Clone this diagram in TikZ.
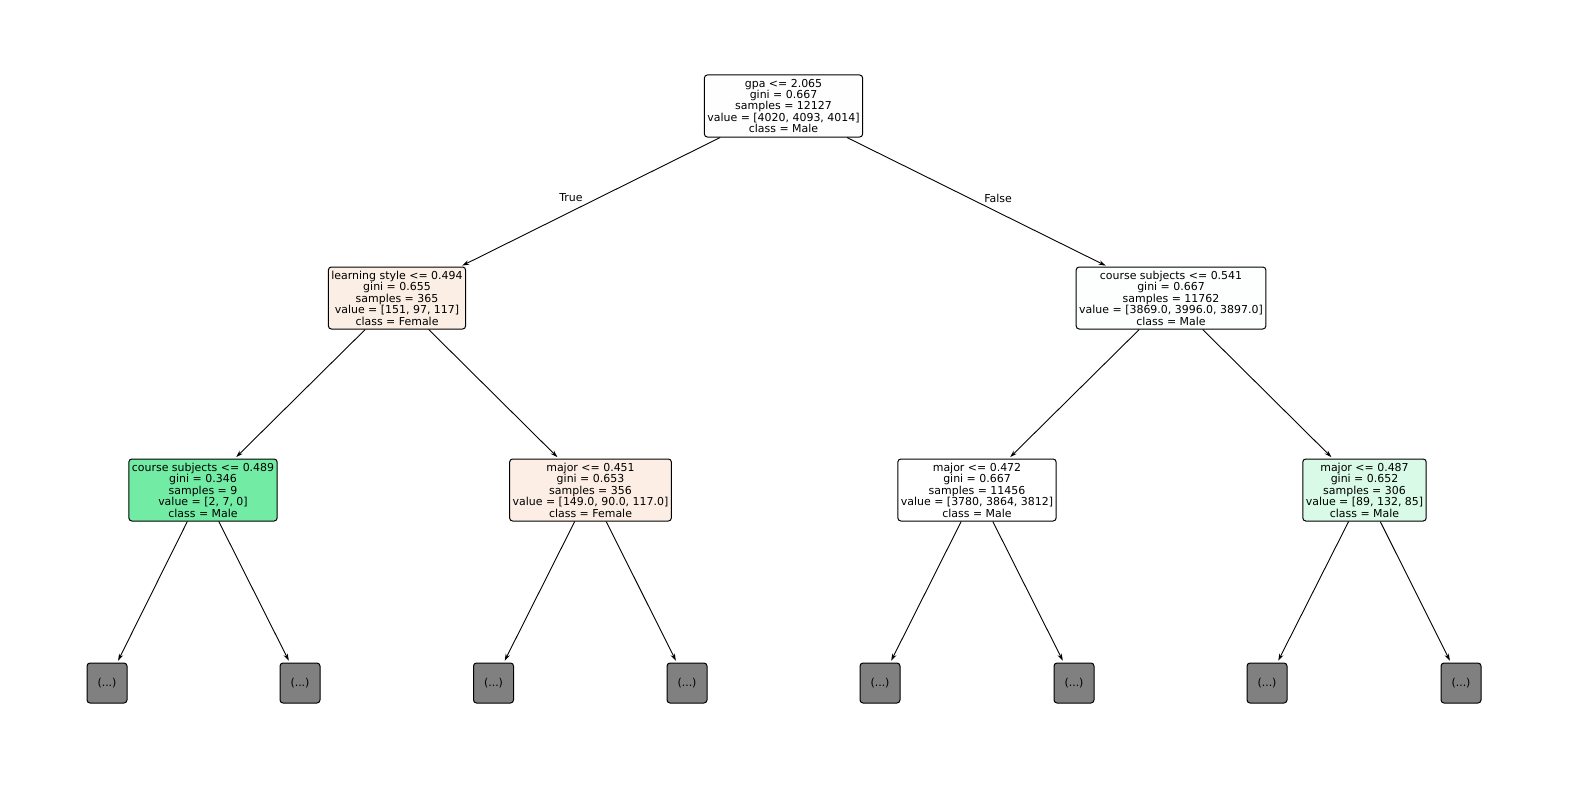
\documentclass[tikz,border=0pt]{standalone}
\usepackage{fontspec}
\setmainfont{DejaVu Sans}
\usetikzlibrary{arrows.meta}
\definecolor{rootc}{RGB}{253,254,253}
\definecolor{femA}{RGB}{251,238,228}
\definecolor{femB}{RGB}{252,238,228}
\definecolor{maleA}{RGB}{252,255,253}
\definecolor{maleB}{RGB}{114,236,165}
\definecolor{maleC}{RGB}{254,255,254}
\definecolor{maleD}{RGB}{216,250,230}
\definecolor{leafc}{RGB}{128,128,128}
\tikzset{
  tree/.style={draw=black, line width=1bp, rounded corners=3bp, align=center,
    font=\fontsize{11}{11.5}\selectfont, inner xsep=3bp, inner ysep=2bp,
    minimum height=62bp},
  leafbox/.style={draw=black, line width=1bp, rounded corners=3bp, fill=leafc,
    font=\fontsize{11}{11.5}\selectfont, minimum width=40bp, minimum height=40bp, inner sep=0pt},
  edge/.style={draw=black, line width=0.9bp, -{Stealth[length=7bp,width=4.5bp]}, shorten >=2bp},
  elabel/.style={font=\fontsize{11}{11.5}\selectfont}
}
\begin{document}
\begin{tikzpicture}[x=1bp,y=-1bp]
\useasboundingbox (0,0) rectangle (1570,790);
% internal nodes
\node[tree, fill=rootc] (n0) at (783.5,106) {gpa <= 2.065\\gini = 0.667\\samples = 12127\\value = [4020, 4093, 4014]\\class = Male};
\node[tree, fill=femA] (n1) at (397,298) {learning style <= 0.494\\gini = 0.655\\samples = 365\\value = [151, 97, 117]\\class = Female};
\node[tree, fill=maleA] (n2) at (1171,298) {course subjects <= 0.541\\gini = 0.667\\samples = 11762\\value = [3869.0, 3996.0, 3897.0]\\class = Male};
\node[tree, fill=maleB] (n3) at (203,490) {course subjects <= 0.489\\gini = 0.346\\samples = 9\\value = [2, 7, 0]\\class = Male};
\node[tree, fill=femB] (n4) at (590.5,490) {major <= 0.451\\gini = 0.653\\samples = 356\\value = [149.0, 90.0, 117.0]\\class = Female};
\node[tree, fill=maleC] (n5) at (977,490) {major <= 0.472\\gini = 0.667\\samples = 11456\\value = [3780, 3864, 3812]\\class = Male};
\node[tree, fill=maleD] (n6) at (1364.5,490) {major <= 0.487\\gini = 0.652\\samples = 306\\value = [89, 132, 85]\\class = Male};
% truncated subtrees
\node[leafbox] (l1) at (107,683) {(...)};
\node[leafbox] (l2) at (300,683) {(...)};
\node[leafbox] (l3) at (493.5,683) {(...)};
\node[leafbox] (l4) at (687,683) {(...)};
\node[leafbox] (l5) at (880,683) {(...)};
\node[leafbox] (l6) at (1074,683) {(...)};
\node[leafbox] (l7) at (1267,683) {(...)};
\node[leafbox] (l8) at (1461,683) {(...)};
% connectors
\draw[edge] (n0) -- (n1);
\draw[edge] (n0) -- (n2);
\draw[edge] (n1) -- (n3);
\draw[edge] (n1) -- (n4);
\draw[edge] (n2) -- (n5);
\draw[edge] (n2) -- (n6);
\draw[edge] (n3) -- (l1);
\draw[edge] (n3) -- (l2);
\draw[edge] (n4) -- (l3);
\draw[edge] (n4) -- (l4);
\draw[edge] (n5) -- (l5);
\draw[edge] (n5) -- (l6);
\draw[edge] (n6) -- (l7);
\draw[edge] (n6) -- (l8);
% split labels
\node[elabel] (tlab) at (571,198) {True};
\node[elabel] (flab) at (998,198) {False};
\end{tikzpicture}
\end{document}
